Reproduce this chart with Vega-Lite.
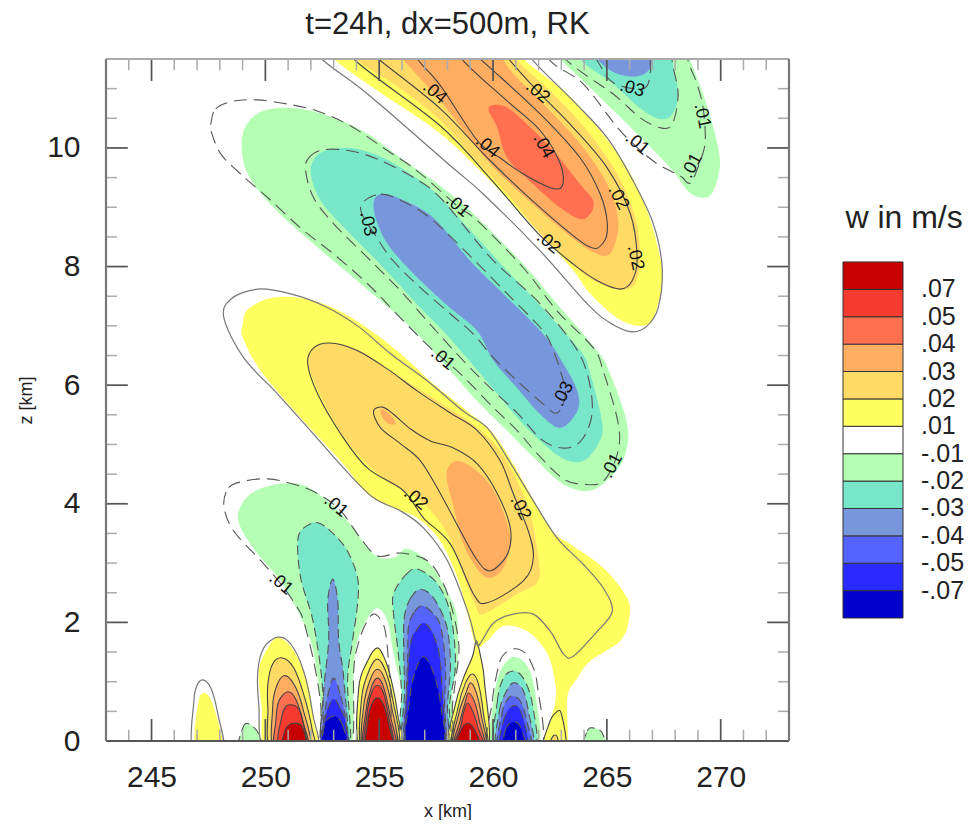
{"$schema":"https://vega.github.io/schema/vega-lite/v6.json","padding":{"left":17,"top":8,"right":0,"bottom":0},"background":"white","datasets":{
"fills":[
{"p":1,"l":1,"x":251.5,"z":12.1},{"p":1,"l":1,"x":253.0,"z":11.5},{"p":1,"l":1,"x":255.06,"z":10.93},{"p":1,"l":1,"x":257.69,"z":10.24},{"p":1,"l":1,"x":259.89,"z":9.44},{"p":1,"l":1,"x":262.08,"z":8.55},{"p":1,"l":1,"x":263.53,"z":7.93},{"p":1,"l":1,"x":264.27,"z":7.54},{"p":1,"l":1,"x":265.46,"z":7.13},{"p":1,"l":1,"x":266.46,"z":7.0},{"p":1,"l":1,"x":267.04,"z":7.13},{"p":1,"l":1,"x":267.43,"z":7.71},{"p":1,"l":1,"x":267.34,"z":8.15},{"p":1,"l":1,"x":266.77,"z":8.94},{"p":1,"l":1,"x":265.89,"z":9.66},{"p":1,"l":1,"x":264.71,"z":10.29},{"p":1,"l":1,"x":263.26,"z":10.91},{"p":1,"l":1,"x":261.33,"z":11.5},{"p":1,"l":1,"x":259.8,"z":12.1},
{"p":2,"l":2,"x":252.5,"z":12.1},{"p":2,"l":2,"x":253.96,"z":11.5},{"p":2,"l":2,"x":255.94,"z":11.0},{"p":2,"l":2,"x":257.69,"z":10.46},{"p":2,"l":2,"x":259.14,"z":9.83},{"p":2,"l":2,"x":260.63,"z":9.22},{"p":2,"l":2,"x":262.08,"z":8.55},{"p":2,"l":2,"x":263.53,"z":8.01},{"p":2,"l":2,"x":264.71,"z":7.71},{"p":2,"l":2,"x":265.68,"z":7.61},{"p":2,"l":2,"x":266.25,"z":7.72},{"p":2,"l":2,"x":266.46,"z":8.15},{"p":2,"l":2,"x":266.25,"z":8.82},{"p":2,"l":2,"x":265.46,"z":9.56},{"p":2,"l":2,"x":264.14,"z":10.29},{"p":2,"l":2,"x":262.65,"z":10.91},{"p":2,"l":2,"x":260.98,"z":11.5},{"p":2,"l":2,"x":259.5,"z":12.1},
{"p":3,"l":3,"x":254.8,"z":12.1},{"p":3,"l":3,"x":256.03,"z":11.5},{"p":3,"l":3,"x":257.69,"z":10.79},{"p":3,"l":3,"x":259.89,"z":9.73},{"p":3,"l":3,"x":262.08,"z":8.94},{"p":3,"l":3,"x":263.83,"z":8.38},{"p":3,"l":3,"x":264.84,"z":8.18},{"p":3,"l":3,"x":265.28,"z":8.31},{"p":3,"l":3,"x":265.5,"z":8.77},{"p":3,"l":3,"x":265.02,"z":9.39},{"p":3,"l":3,"x":263.83,"z":10.07},{"p":3,"l":3,"x":262.39,"z":10.67},{"p":3,"l":3,"x":260.89,"z":11.25},{"p":3,"l":3,"x":260.41,"z":11.5},{"p":3,"l":3,"x":259.3,"z":12.1},
{"p":4,"l":4,"x":259.8,"z":10.67},{"p":4,"l":4,"x":260.46,"z":10.71},{"p":4,"l":4,"x":261.33,"z":10.46},{"p":4,"l":4,"x":262.65,"z":9.95},{"p":4,"l":4,"x":263.83,"z":9.39},{"p":4,"l":4,"x":264.4,"z":9.11},{"p":4,"l":4,"x":264.27,"z":8.89},{"p":4,"l":4,"x":263.83,"z":8.8},{"p":4,"l":4,"x":262.96,"z":8.99},{"p":4,"l":4,"x":261.77,"z":9.39},{"p":4,"l":4,"x":260.63,"z":9.83},{"p":4,"l":4,"x":260.19,"z":10.34},
{"p":5,"l":-1,"x":261.8,"z":12.1},{"p":5,"l":-1,"x":262.96,"z":11.5},{"p":5,"l":-1,"x":263.96,"z":11.13},{"p":5,"l":-1,"x":265.46,"z":10.57},{"p":5,"l":-1,"x":266.77,"z":10.07},{"p":5,"l":-1,"x":267.91,"z":9.61},{"p":5,"l":-1,"x":268.57,"z":9.27},{"p":5,"l":-1,"x":269.23,"z":9.16},{"p":5,"l":-1,"x":269.67,"z":9.27},{"p":5,"l":-1,"x":269.97,"z":9.73},{"p":5,"l":-1,"x":269.75,"z":10.24},{"p":5,"l":-1,"x":269.23,"z":10.91},{"p":5,"l":-1,"x":268.66,"z":11.5},{"p":5,"l":-1,"x":268.3,"z":12.1},
{"p":6,"l":-2,"x":263,"z":12.1},{"p":6,"l":-2,"x":263.83,"z":11.5},{"p":6,"l":-2,"x":265.28,"z":11.08},{"p":6,"l":-2,"x":266.46,"z":10.67},{"p":6,"l":-2,"x":267.34,"z":10.49},{"p":6,"l":-2,"x":267.87,"z":10.57},{"p":6,"l":-2,"x":268.13,"z":10.91},{"p":6,"l":-2,"x":267.87,"z":11.5},{"p":6,"l":-2,"x":267.8,"z":12.1},
{"p":7,"l":-3,"x":263.5,"z":12.1},{"p":7,"l":-3,"x":264.58,"z":11.5},{"p":7,"l":-3,"x":265.46,"z":11.25},{"p":7,"l":-3,"x":266.33,"z":11.21},{"p":7,"l":-3,"x":266.82,"z":11.3},{"p":7,"l":-3,"x":266.99,"z":11.5},{"p":7,"l":-3,"x":267,"z":12.1},
{"p":8,"l":-1,"x":248.96,"z":10.12},{"p":8,"l":-1,"x":249.36,"z":10.49},{"p":8,"l":-1,"x":250.24,"z":10.66},{"p":8,"l":-1,"x":251.55,"z":10.66},{"p":8,"l":-1,"x":253.0,"z":10.51},{"p":8,"l":-1,"x":254.49,"z":10.24},{"p":8,"l":-1,"x":255.94,"z":9.83},{"p":8,"l":-1,"x":257.69,"z":9.36},{"p":8,"l":-1,"x":259.14,"z":8.89},{"p":8,"l":-1,"x":261.33,"z":8.04},{"p":8,"l":-1,"x":262.82,"z":7.37},{"p":8,"l":-1,"x":264.58,"z":6.58},{"p":8,"l":-1,"x":265.15,"z":6.19},{"p":8,"l":-1,"x":265.89,"z":5.35},{"p":8,"l":-1,"x":265.81,"z":4.84},{"p":8,"l":-1,"x":265.28,"z":4.5},{"p":8,"l":-1,"x":264.27,"z":4.22},{"p":8,"l":-1,"x":263.09,"z":4.33},{"p":8,"l":-1,"x":261.95,"z":4.72},{"p":8,"l":-1,"x":260.63,"z":5.23},{"p":8,"l":-1,"x":259.32,"z":5.73},{"p":8,"l":-1,"x":256.95,"z":6.75},{"p":8,"l":-1,"x":255.94,"z":7.13},{"p":8,"l":-1,"x":253.88,"z":7.81},{"p":8,"l":-1,"x":252.12,"z":8.38},{"p":8,"l":-1,"x":250.37,"z":8.99},{"p":8,"l":-1,"x":249.23,"z":9.56},
{"p":9,"l":-2,"x":251.99,"z":9.61},{"p":9,"l":-2,"x":252.43,"z":9.92},{"p":9,"l":-2,"x":253.75,"z":10.0},{"p":9,"l":-2,"x":255.19,"z":9.83},{"p":9,"l":-2,"x":256.68,"z":9.48},{"p":9,"l":-2,"x":257.69,"z":9.16},{"p":9,"l":-2,"x":259.14,"z":8.55},{"p":9,"l":-2,"x":260.63,"z":7.93},{"p":9,"l":-2,"x":262.08,"z":7.34},{"p":9,"l":-2,"x":263.83,"z":6.58},{"p":9,"l":-2,"x":264.27,"z":6.19},{"p":9,"l":-2,"x":264.8,"z":5.35},{"p":9,"l":-2,"x":264.62,"z":5.01},{"p":9,"l":-2,"x":263.96,"z":4.72},{"p":9,"l":-2,"x":263.09,"z":4.76},{"p":9,"l":-2,"x":262.08,"z":5.06},{"p":9,"l":-2,"x":261.07,"z":5.45},{"p":9,"l":-2,"x":259.89,"z":5.99},{"p":9,"l":-2,"x":258.13,"z":6.78},{"p":9,"l":-2,"x":256.82,"z":7.3},{"p":9,"l":-2,"x":255.19,"z":7.98},{"p":9,"l":-2,"x":253.61,"z":8.6},{"p":9,"l":-2,"x":252.43,"z":9.11},
{"p":10,"l":-3,"x":254.75,"z":9.06},{"p":10,"l":-3,"x":255.06,"z":9.22},{"p":10,"l":-3,"x":255.94,"z":9.14},{"p":10,"l":-3,"x":257.39,"z":8.82},{"p":10,"l":-3,"x":259.01,"z":8.09},{"p":10,"l":-3,"x":260.32,"z":7.59},{"p":10,"l":-3,"x":262.21,"z":6.86},{"p":10,"l":-3,"x":263.09,"z":6.36},{"p":10,"l":-3,"x":263.7,"z":5.9},{"p":10,"l":-3,"x":263.7,"z":5.56},{"p":10,"l":-3,"x":262.96,"z":5.28},{"p":10,"l":-3,"x":262.08,"z":5.51},{"p":10,"l":-3,"x":261.07,"z":5.95},{"p":10,"l":-3,"x":260.02,"z":6.41},{"p":10,"l":-3,"x":259.32,"z":6.91},{"p":10,"l":-3,"x":258.13,"z":7.3},{"p":10,"l":-3,"x":256.82,"z":7.76},{"p":10,"l":-3,"x":255.5,"z":8.31},{"p":10,"l":-3,"x":254.93,"z":8.72},
{"p":11,"l":1,"x":259.27,"z":1.6},{"p":11,"l":1,"x":259.75,"z":1.69},{"p":11,"l":1,"x":260.46,"z":1.94},{"p":11,"l":1,"x":261.51,"z":1.85},{"p":11,"l":1,"x":262.39,"z":1.47},{"p":11,"l":1,"x":262.74,"z":0.96},{"p":11,"l":1,"x":262.74,"z":0.67},{"p":11,"l":1,"x":262.52,"z":0.34},{"p":11,"l":1,"x":262.21,"z":-0.17},{"p":11,"l":1,"x":263.22,"z":-0.17},{"p":11,"l":1,"x":263.26,"z":0.73},{"p":11,"l":1,"x":263.7,"z":1.06},{"p":11,"l":1,"x":264.27,"z":1.35},{"p":11,"l":1,"x":265.59,"z":1.69},{"p":11,"l":1,"x":265.98,"z":2.07},{"p":11,"l":1,"x":265.89,"z":2.41},{"p":11,"l":1,"x":264.84,"z":2.92},{"p":11,"l":1,"x":263.39,"z":3.32},{"p":11,"l":1,"x":262.52,"z":3.59},{"p":11,"l":1,"x":261.07,"z":4.55},{"p":11,"l":1,"x":260.02,"z":5.18},{"p":11,"l":1,"x":258.88,"z":5.56},{"p":11,"l":1,"x":257.39,"z":6.02},{"p":11,"l":1,"x":255.94,"z":6.53},{"p":11,"l":1,"x":254.49,"z":6.96},{"p":11,"l":1,"x":253.0,"z":7.3},{"p":11,"l":1,"x":251.55,"z":7.47},{"p":11,"l":1,"x":250.24,"z":7.47},{"p":11,"l":1,"x":249.23,"z":7.28},{"p":11,"l":1,"x":249.01,"z":7.03},{"p":11,"l":1,"x":249.01,"z":6.8},{"p":11,"l":1,"x":249.8,"z":6.24},{"p":11,"l":1,"x":251.55,"z":5.45},{"p":11,"l":1,"x":253.31,"z":4.72},{"p":11,"l":1,"x":254.49,"z":4.17},{"p":11,"l":1,"x":255.63,"z":3.93},{"p":11,"l":1,"x":256.68,"z":3.76},{"p":11,"l":1,"x":257.69,"z":3.37},{"p":11,"l":1,"x":258.44,"z":2.75},{"p":11,"l":1,"x":258.88,"z":2.14},
{"p":12,"l":2,"x":251.9,"z":6.41},{"p":12,"l":2,"x":252.12,"z":6.63},{"p":12,"l":2,"x":253.0,"z":6.71},{"p":12,"l":2,"x":254.18,"z":6.58},{"p":12,"l":2,"x":255.37,"z":6.27},{"p":12,"l":2,"x":256.68,"z":5.95},{"p":12,"l":2,"x":258.13,"z":5.6},{"p":12,"l":2,"x":259.32,"z":5.28},{"p":12,"l":2,"x":260.32,"z":4.89},{"p":12,"l":2,"x":261.2,"z":4.27},{"p":12,"l":2,"x":261.64,"z":3.83},{"p":12,"l":2,"x":261.95,"z":3.2},{"p":12,"l":2,"x":261.99,"z":2.7},{"p":12,"l":2,"x":261.07,"z":2.48},{"p":12,"l":2,"x":259.58,"z":2.14},{"p":12,"l":2,"x":259.23,"z":2.28},{"p":12,"l":2,"x":258.88,"z":2.61},{"p":12,"l":2,"x":258.0,"z":3.49},{"p":12,"l":2,"x":256.82,"z":4.05},{"p":12,"l":2,"x":255.37,"z":4.38},{"p":12,"l":2,"x":254.05,"z":4.84},{"p":12,"l":2,"x":253.0,"z":5.4},{"p":12,"l":2,"x":251.99,"z":6.19},
{"p":13,"l":3,"x":257.96,"z":4.52},{"p":13,"l":3,"x":258.48,"z":4.72},{"p":13,"l":3,"x":259.45,"z":4.5},{"p":13,"l":3,"x":260.1,"z":4.17},{"p":13,"l":3,"x":260.63,"z":3.66},{"p":13,"l":3,"x":260.76,"z":3.32},{"p":13,"l":3,"x":260.46,"z":2.92},{"p":13,"l":3,"x":259.89,"z":2.75},{"p":13,"l":3,"x":259.36,"z":2.87},{"p":13,"l":3,"x":258.7,"z":3.32},{"p":13,"l":3,"x":258.26,"z":3.96},
{"p":14,"l":3,"x":255.06,"z":5.6},{"p":14,"l":3,"x":255.41,"z":5.53},{"p":14,"l":3,"x":255.72,"z":5.36},{"p":14,"l":3,"x":255.41,"z":5.35},{"p":14,"l":3,"x":255.15,"z":5.45},
{"p":15,"l":-1,"x":248.83,"z":3.88},{"p":15,"l":-1,"x":249.36,"z":4.17},{"p":15,"l":-1,"x":250.37,"z":4.32},{"p":15,"l":-1,"x":251.55,"z":4.33},{"p":15,"l":-1,"x":252.56,"z":4.1},{"p":15,"l":-1,"x":253.61,"z":3.71},{"p":15,"l":-1,"x":254.75,"z":3.15},{"p":15,"l":-1,"x":255.63,"z":3.09},{"p":15,"l":-1,"x":256.25,"z":3.24},{"p":15,"l":-1,"x":257.25,"z":2.98},{"p":15,"l":-1,"x":258.13,"z":2.41},{"p":15,"l":-1,"x":258.44,"z":2.02},{"p":15,"l":-1,"x":258.44,"z":1.3},{"p":15,"l":-1,"x":258.22,"z":0.84},{"p":15,"l":-1,"x":258.04,"z":-0.17},{"p":15,"l":-1,"x":255.94,"z":-0.17},{"p":15,"l":-1,"x":256.07,"z":0.62},{"p":15,"l":-1,"x":255.63,"z":1.47},{"p":15,"l":-1,"x":255.37,"z":2.02},{"p":15,"l":-1,"x":254.93,"z":2.24},{"p":15,"l":-1,"x":254.49,"z":2.07},{"p":15,"l":-1,"x":254.05,"z":1.69},{"p":15,"l":-1,"x":253.88,"z":1.18},{"p":15,"l":-1,"x":253.75,"z":-0.17},{"p":15,"l":-1,"x":252.56,"z":-0.17},{"p":15,"l":-1,"x":252.43,"z":0.62},{"p":15,"l":-1,"x":252.25,"z":1.18},{"p":15,"l":-1,"x":251.99,"z":1.69},{"p":15,"l":-1,"x":251.42,"z":2.19},{"p":15,"l":-1,"x":250.68,"z":2.7},{"p":15,"l":-1,"x":249.67,"z":3.15},{"p":15,"l":-1,"x":248.92,"z":3.59},
{"p":16,"l":-1,"x":259.97,"z":-0.17},{"p":16,"l":-1,"x":260.02,"z":0.67},{"p":16,"l":-1,"x":260.32,"z":1.18},{"p":16,"l":-1,"x":260.89,"z":1.42},{"p":16,"l":-1,"x":261.51,"z":1.26},{"p":16,"l":-1,"x":261.86,"z":0.79},{"p":16,"l":-1,"x":261.95,"z":-0.17},
{"p":200,"l":-2,"x":251.42,"z":3.37},{"p":200,"l":-2,"x":251.68,"z":3.59},{"p":200,"l":-2,"x":252.3,"z":3.68},{"p":200,"l":-2,"x":253.0,"z":3.49},{"p":200,"l":-2,"x":253.61,"z":3.2},{"p":200,"l":-2,"x":254.05,"z":2.75},{"p":200,"l":-2,"x":254.05,"z":2.31},{"p":200,"l":-2,"x":253.83,"z":1.69},{"p":200,"l":-2,"x":253.61,"z":1.01},{"p":200,"l":-2,"x":253.7,"z":-0.17},{"p":200,"l":-2,"x":252.65,"z":-0.17},{"p":200,"l":-2,"x":252.52,"z":0.84},{"p":200,"l":-2,"x":252.34,"z":1.47},{"p":200,"l":-2,"x":252.04,"z":2.11},{"p":200,"l":-2,"x":251.55,"z":2.75},
{"p":201,"l":-3,"x":252.96,"z":2.73},{"p":201,"l":-3,"x":253.18,"z":2.36},{"p":201,"l":-3,"x":253.22,"z":1.69},{"p":201,"l":-3,"x":253.44,"z":1.06},{"p":201,"l":-3,"x":253.57,"z":-0.17},{"p":201,"l":-3,"x":252.47,"z":-0.17},{"p":201,"l":-3,"x":252.56,"z":0.84},{"p":201,"l":-3,"x":252.78,"z":1.69},{"p":201,"l":-3,"x":252.74,"z":2.36},
{"p":202,"l":-4,"x":253.0,"z":1.06},{"p":202,"l":-4,"x":253.31,"z":0.76},{"p":202,"l":-4,"x":253.53,"z":0.34},{"p":202,"l":-4,"x":253.61,"z":-0.17},{"p":202,"l":-4,"x":252.43,"z":-0.17},{"p":202,"l":-4,"x":252.56,"z":0.34},{"p":202,"l":-4,"x":252.74,"z":0.76},
{"p":203,"l":-5,"x":253.0,"z":0.71},{"p":203,"l":-5,"x":253.31,"z":0.54},{"p":203,"l":-5,"x":253.53,"z":0.3},{"p":203,"l":-5,"x":253.57,"z":-0.17},{"p":203,"l":-5,"x":252.52,"z":-0.17},{"p":203,"l":-5,"x":252.6,"z":0.3},{"p":203,"l":-5,"x":252.74,"z":0.54},
{"p":204,"l":-6,"x":253.0,"z":0.42},{"p":204,"l":-6,"x":253.39,"z":0.27},{"p":204,"l":-6,"x":253.57,"z":-0.17},{"p":204,"l":-6,"x":252.52,"z":-0.17},{"p":204,"l":-6,"x":252.6,"z":0.27},
{"p":205,"l":-2,"x":255.63,"z":2.48},{"p":205,"l":-2,"x":256.16,"z":2.8},{"p":205,"l":-2,"x":256.68,"z":2.9},{"p":205,"l":-2,"x":257.56,"z":2.65},{"p":205,"l":-2,"x":258.13,"z":2.14},{"p":205,"l":-2,"x":258.35,"z":1.3},{"p":205,"l":-2,"x":258.09,"z":0.62},{"p":205,"l":-2,"x":258.0,"z":-0.17},{"p":205,"l":-2,"x":256.03,"z":-0.17},{"p":205,"l":-2,"x":255.98,"z":0.84},{"p":205,"l":-2,"x":255.81,"z":1.57},{"p":205,"l":-2,"x":255.63,"z":2.14},
{"p":206,"l":-3,"x":256.11,"z":2.11},{"p":206,"l":-3,"x":256.38,"z":2.41},{"p":206,"l":-3,"x":256.82,"z":2.56},{"p":206,"l":-3,"x":257.39,"z":2.41},{"p":206,"l":-3,"x":257.96,"z":1.94},{"p":206,"l":-3,"x":258.13,"z":1.3},{"p":206,"l":-3,"x":258.0,"z":0.62},{"p":206,"l":-3,"x":257.91,"z":-0.17},{"p":206,"l":-3,"x":256.11,"z":-0.17},{"p":206,"l":-3,"x":256.11,"z":0.84},{"p":206,"l":-3,"x":256.07,"z":1.69},
{"p":207,"l":-4,"x":256.29,"z":1.94},{"p":207,"l":-4,"x":256.55,"z":2.18},{"p":207,"l":-4,"x":256.9,"z":2.28},{"p":207,"l":-4,"x":257.34,"z":2.16},{"p":207,"l":-4,"x":257.69,"z":1.94},{"p":207,"l":-4,"x":257.91,"z":1.3},{"p":207,"l":-4,"x":257.87,"z":0.62},{"p":207,"l":-4,"x":257.82,"z":-0.17},{"p":207,"l":-4,"x":256.2,"z":-0.17},{"p":207,"l":-4,"x":256.2,"z":0.84},{"p":207,"l":-4,"x":256.25,"z":1.43},
{"p":208,"l":-5,"x":256.38,"z":1.65},{"p":208,"l":-5,"x":256.6,"z":1.85},{"p":208,"l":-5,"x":256.95,"z":1.99},{"p":208,"l":-5,"x":257.3,"z":1.85},{"p":208,"l":-5,"x":257.61,"z":1.52},{"p":208,"l":-5,"x":257.74,"z":1.01},{"p":208,"l":-5,"x":257.78,"z":-0.17},{"p":208,"l":-5,"x":256.25,"z":-0.17},{"p":208,"l":-5,"x":256.25,"z":1.01},
{"p":209,"l":-6,"x":256.95,"z":1.42},{"p":209,"l":-6,"x":256.55,"z":1.13},{"p":209,"l":-6,"x":256.33,"z":0.67},{"p":209,"l":-6,"x":256.2,"z":-0.17},{"p":209,"l":-6,"x":257.82,"z":-0.17},{"p":209,"l":-6,"x":257.74,"z":0.51},{"p":209,"l":-6,"x":257.43,"z":1.1},
{"p":210,"l":-2,"x":260.11,"z":-0.17},{"p":210,"l":-2,"x":260.19,"z":0.67},{"p":210,"l":-2,"x":260.46,"z":1.06},{"p":210,"l":-2,"x":260.89,"z":1.18},{"p":210,"l":-2,"x":261.33,"z":1.06},{"p":210,"l":-2,"x":261.73,"z":0.62},{"p":210,"l":-2,"x":261.82,"z":-0.17},
{"p":211,"l":-3,"x":260.19,"z":-0.17},{"p":211,"l":-3,"x":260.28,"z":0.51},{"p":211,"l":-3,"x":260.59,"z":0.84},{"p":211,"l":-3,"x":260.89,"z":0.98},{"p":211,"l":-3,"x":261.29,"z":0.88},{"p":211,"l":-3,"x":261.55,"z":0.51},{"p":211,"l":-3,"x":261.73,"z":-0.17},
{"p":212,"l":-4,"x":260.24,"z":-0.17},{"p":212,"l":-4,"x":260.37,"z":0.42},{"p":212,"l":-4,"x":260.59,"z":0.67},{"p":212,"l":-4,"x":260.85,"z":0.76},{"p":212,"l":-4,"x":261.2,"z":0.67},{"p":212,"l":-4,"x":261.46,"z":0.37},{"p":212,"l":-4,"x":261.64,"z":-0.17},
{"p":213,"l":-5,"x":260.32,"z":-0.17},{"p":213,"l":-5,"x":260.46,"z":0.34},{"p":213,"l":-5,"x":260.85,"z":0.59},{"p":213,"l":-5,"x":261.25,"z":0.47},{"p":213,"l":-5,"x":261.51,"z":-0.17},
{"p":214,"l":-6,"x":260.46,"z":-0.17},{"p":214,"l":-6,"x":260.54,"z":0.17},{"p":214,"l":-6,"x":260.76,"z":0.3},{"p":214,"l":-6,"x":261.16,"z":0.27},{"p":214,"l":-6,"x":261.42,"z":-0.17},
{"p":215,"l":-1,"x":248.83,"z":-0.17},{"p":215,"l":-1,"x":249.01,"z":0.22},{"p":215,"l":-1,"x":249.27,"z":0.29},{"p":215,"l":-1,"x":249.71,"z":0.12},{"p":215,"l":-1,"x":249.8,"z":-0.17},
{"p":216,"l":-1,"x":263.96,"z":-0.17},{"p":216,"l":-1,"x":264.14,"z":0.17},{"p":216,"l":-1,"x":264.4,"z":0.22},{"p":216,"l":-1,"x":264.79,"z":0.14},{"p":216,"l":-1,"x":264.93,"z":-0.17},
{"p":17,"l":1,"x":246.95,"z":-0.17},{"p":17,"l":1,"x":247.04,"z":0.62},{"p":17,"l":1,"x":247.3,"z":0.81},{"p":17,"l":1,"x":247.69,"z":0.62},{"p":17,"l":1,"x":248.13,"z":-0.17},
{"p":18,"l":1,"x":249.71,"z":1.18},{"p":18,"l":1,"x":250.11,"z":1.57},{"p":18,"l":1,"x":250.59,"z":1.74},{"p":18,"l":1,"x":251.25,"z":1.52},{"p":18,"l":1,"x":251.86,"z":0.96},{"p":18,"l":1,"x":252.12,"z":0.34},{"p":18,"l":1,"x":252.21,"z":-0.17},{"p":18,"l":1,"x":250.06,"z":-0.17},{"p":18,"l":1,"x":249.84,"z":0.56},
{"p":100,"l":2,"x":250.11,"z":0.96},{"p":100,"l":2,"x":250.32,"z":1.3},{"p":100,"l":2,"x":250.76,"z":1.4},{"p":100,"l":2,"x":251.25,"z":1.23},{"p":100,"l":2,"x":251.68,"z":0.79},{"p":100,"l":2,"x":252.04,"z":0.22},{"p":100,"l":2,"x":252.08,"z":-0.17},{"p":100,"l":2,"x":250.28,"z":-0.17},{"p":100,"l":2,"x":250.11,"z":0.56},
{"p":101,"l":3,"x":250.46,"z":0.89},{"p":101,"l":3,"x":250.81,"z":1.1},{"p":101,"l":3,"x":251.25,"z":0.96},{"p":101,"l":3,"x":251.64,"z":0.56},{"p":101,"l":3,"x":251.95,"z":-0.17},{"p":101,"l":3,"x":250.41,"z":-0.17},{"p":101,"l":3,"x":250.32,"z":0.56},
{"p":102,"l":4,"x":250.59,"z":0.67},{"p":102,"l":4,"x":250.98,"z":0.83},{"p":102,"l":4,"x":251.33,"z":0.71},{"p":102,"l":4,"x":251.64,"z":0.34},{"p":102,"l":4,"x":251.86,"z":-0.17},{"p":102,"l":4,"x":250.46,"z":-0.17},{"p":102,"l":4,"x":250.46,"z":0.34},
{"p":103,"l":5,"x":250.76,"z":0.47},{"p":103,"l":5,"x":251.11,"z":0.61},{"p":103,"l":5,"x":251.55,"z":0.47},{"p":103,"l":5,"x":251.77,"z":-0.17},{"p":103,"l":5,"x":250.59,"z":-0.17},
{"p":104,"l":6,"x":250.89,"z":0.2},{"p":104,"l":6,"x":251.25,"z":0.3},{"p":104,"l":6,"x":251.64,"z":0.22},{"p":104,"l":6,"x":251.77,"z":-0.17},{"p":104,"l":6,"x":250.76,"z":-0.17},
{"p":105,"l":1,"x":254.18,"z":-0.17},{"p":105,"l":1,"x":254.1,"z":0.89},{"p":105,"l":1,"x":254.49,"z":1.35},{"p":105,"l":1,"x":254.93,"z":1.57},{"p":105,"l":1,"x":255.28,"z":1.35},{"p":105,"l":1,"x":255.54,"z":1.01},{"p":105,"l":1,"x":255.81,"z":0.46},{"p":105,"l":1,"x":255.94,"z":-0.17},
{"p":106,"l":2,"x":254.27,"z":-0.17},{"p":106,"l":2,"x":254.23,"z":0.73},{"p":106,"l":2,"x":254.58,"z":1.21},{"p":106,"l":2,"x":254.93,"z":1.38},{"p":106,"l":2,"x":255.28,"z":1.18},{"p":106,"l":2,"x":255.58,"z":0.73},{"p":106,"l":2,"x":255.85,"z":-0.17},
{"p":107,"l":3,"x":254.32,"z":-0.17},{"p":107,"l":3,"x":254.32,"z":0.59},{"p":107,"l":3,"x":254.62,"z":1.05},{"p":107,"l":3,"x":254.93,"z":1.21},{"p":107,"l":3,"x":255.24,"z":1.05},{"p":107,"l":3,"x":255.54,"z":0.59},{"p":107,"l":3,"x":255.76,"z":-0.17},
{"p":108,"l":4,"x":254.36,"z":-0.17},{"p":108,"l":4,"x":254.4,"z":0.47},{"p":108,"l":4,"x":254.66,"z":0.91},{"p":108,"l":4,"x":254.93,"z":1.06},{"p":108,"l":4,"x":255.19,"z":0.91},{"p":108,"l":4,"x":255.46,"z":0.47},{"p":108,"l":4,"x":255.72,"z":-0.17},
{"p":109,"l":5,"x":254.4,"z":-0.17},{"p":109,"l":5,"x":254.45,"z":0.42},{"p":109,"l":5,"x":254.66,"z":0.81},{"p":109,"l":5,"x":254.93,"z":0.94},{"p":109,"l":5,"x":255.19,"z":0.81},{"p":109,"l":5,"x":255.41,"z":0.42},{"p":109,"l":5,"x":255.63,"z":-0.17},
{"p":110,"l":6,"x":254.45,"z":-0.17},{"p":110,"l":6,"x":254.49,"z":0.3},{"p":110,"l":6,"x":254.66,"z":0.61},{"p":110,"l":6,"x":254.93,"z":0.73},{"p":110,"l":6,"x":255.19,"z":0.61},{"p":110,"l":6,"x":255.41,"z":0.3},{"p":110,"l":6,"x":255.59,"z":-0.17},
{"p":111,"l":1,"x":258.04,"z":-0.17},{"p":111,"l":1,"x":258.35,"z":0.62},{"p":111,"l":1,"x":258.7,"z":1.06},{"p":111,"l":1,"x":259.1,"z":1.43},{"p":111,"l":1,"x":259.27,"z":1.69},{"p":111,"l":1,"x":259.45,"z":1.43},{"p":111,"l":1,"x":259.62,"z":1.01},{"p":111,"l":1,"x":259.75,"z":-0.17},
{"p":112,"l":2,"x":258.2,"z":-0.17},{"p":112,"l":2,"x":258.48,"z":0.59},{"p":112,"l":2,"x":258.79,"z":0.98},{"p":112,"l":2,"x":259.1,"z":1.13},{"p":112,"l":2,"x":259.36,"z":0.96},{"p":112,"l":2,"x":259.58,"z":0.46},{"p":112,"l":2,"x":259.7,"z":-0.17},
{"p":113,"l":3,"x":258.25,"z":-0.17},{"p":113,"l":3,"x":258.5,"z":0.47},{"p":113,"l":3,"x":258.79,"z":0.79},{"p":113,"l":3,"x":259.01,"z":0.98},{"p":113,"l":3,"x":259.27,"z":0.81},{"p":113,"l":3,"x":259.49,"z":0.42},{"p":113,"l":3,"x":259.66,"z":-0.17},
{"p":114,"l":4,"x":258.28,"z":-0.17},{"p":114,"l":4,"x":258.55,"z":0.34},{"p":114,"l":4,"x":258.79,"z":0.67},{"p":114,"l":4,"x":258.92,"z":0.81},{"p":114,"l":4,"x":259.18,"z":0.67},{"p":114,"l":4,"x":259.4,"z":0.34},{"p":114,"l":4,"x":259.62,"z":-0.17},
{"p":115,"l":5,"x":258.3,"z":-0.17},{"p":115,"l":5,"x":258.58,"z":0.25},{"p":115,"l":5,"x":258.7,"z":0.47},{"p":115,"l":5,"x":258.88,"z":0.64},{"p":115,"l":5,"x":259.1,"z":0.51},{"p":115,"l":5,"x":259.32,"z":0.25},{"p":115,"l":5,"x":259.58,"z":-0.17},
{"p":116,"l":6,"x":258.38,"z":-0.17},{"p":116,"l":6,"x":258.55,"z":0.15},{"p":116,"l":6,"x":258.88,"z":0.3},{"p":116,"l":6,"x":259.2,"z":0.18},{"p":116,"l":6,"x":259.45,"z":-0.17},
{"p":117,"l":1,"x":262.17,"z":-0.17},{"p":117,"l":1,"x":262.47,"z":0.3},{"p":117,"l":1,"x":262.74,"z":0.47},{"p":117,"l":1,"x":263,"z":0.46},{"p":117,"l":1,"x":263.18,"z":-0.17},
{"p":118,"l":2,"x":262.43,"z":-0.17},{"p":118,"l":2,"x":262.61,"z":0.07},{"p":118,"l":2,"x":262.82,"z":0.07},{"p":118,"l":2,"x":262.86,"z":-0.17}
],
"lines":[
{"p":1,"s":1,"x":250.9,"z":12.1},{"p":1,"s":1,"x":252.56,"z":11.47},{"p":1,"s":1,"x":254.49,"z":10.91},{"p":1,"s":1,"x":258.13,"z":9.7},{"p":1,"s":1,"x":259.58,"z":9.22},{"p":1,"s":1,"x":262.08,"z":8.26},{"p":1,"s":1,"x":264.14,"z":7.37},{"p":1,"s":1,"x":265.15,"z":7.05},{"p":1,"s":1,"x":266.11,"z":6.9},{"p":1,"s":1,"x":266.77,"z":7.0},{"p":1,"s":1,"x":267.25,"z":7.3},{"p":1,"s":1,"x":267.43,"z":7.98},{"p":1,"s":1,"x":267.04,"z":8.72},{"p":1,"s":1,"x":266.16,"z":9.44},{"p":1,"s":1,"x":265.02,"z":10.17},{"p":1,"s":1,"x":263.53,"z":10.79},{"p":1,"s":1,"x":261.77,"z":11.47},{"p":1,"s":1,"x":260.5,"z":12.1},
{"p":2,"s":2,"x":252.7,"z":12.1},{"p":2,"s":2,"x":253.96,"z":11.47},{"p":2,"s":2,"x":257.69,"z":10.37},{"p":2,"s":2,"x":259.89,"z":9.48},{"p":2,"s":2,"x":261.95,"z":8.57},{"p":2,"s":2,"x":263.53,"z":8.04},{"p":2,"s":2,"x":264.58,"z":7.76},{"p":2,"s":2,"x":265.59,"z":7.62},{"p":2,"s":2,"x":266.11,"z":7.76},{"p":2,"s":2,"x":266.33,"z":8.15},{"p":2,"s":2,"x":266.03,"z":8.89},{"p":2,"s":2,"x":265.02,"z":9.66},{"p":2,"s":2,"x":263.53,"z":10.34},{"p":2,"s":2,"x":262.08,"z":10.91},{"p":2,"s":2,"x":260.76,"z":11.47},{"p":2,"s":2,"x":259.5,"z":12.1},
{"p":3,"s":2,"x":254.18,"z":11.8},{"p":3,"s":2,"x":254.97,"z":11.5},{"p":3,"s":2,"x":257.69,"z":10.66},{"p":3,"s":2,"x":259.89,"z":9.78},{"p":3,"s":2,"x":262.08,"z":8.99},{"p":3,"s":2,"x":264.14,"z":8.35},{"p":3,"s":2,"x":264.84,"z":8.4},{"p":3,"s":2,"x":265.02,"z":8.72},{"p":3,"s":2,"x":264.71,"z":9.22},{"p":3,"s":2,"x":263.83,"z":9.83},{"p":3,"s":2,"x":262.08,"z":10.57},{"p":3,"s":2,"x":260.02,"z":11.3},{"p":3,"s":2,"x":259.0,"z":11.64},
{"p":4,"s":2,"x":256.2,"z":11.9},{"p":4,"s":2,"x":256.68,"z":11.5},{"p":4,"s":2,"x":257.69,"z":11.05},{"p":4,"s":2,"x":259.32,"z":10.12},{"p":4,"s":2,"x":260.32,"z":9.83},{"p":4,"s":2,"x":261.33,"z":9.56},{"p":4,"s":2,"x":262.52,"z":9.33},{"p":4,"s":2,"x":263.04,"z":9.36},{"p":4,"s":2,"x":262.96,"z":9.73},{"p":4,"s":2,"x":262.08,"z":10.29},{"p":4,"s":2,"x":260.63,"z":10.79},{"p":4,"s":2,"x":258.7,"z":11.47},{"p":4,"s":2,"x":257.5,"z":12.1},
{"p":5,"s":3,"x":261.5,"z":12.1},{"p":5,"s":3,"x":262.52,"z":11.47},{"p":5,"s":3,"x":263.96,"z":11.08},{"p":5,"s":3,"x":265.59,"z":10.29},{"p":5,"s":3,"x":267.04,"z":9.78},{"p":5,"s":3,"x":268.22,"z":9.53},{"p":5,"s":3,"x":268.66,"z":9.41},{"p":5,"s":3,"x":269.1,"z":9.78},{"p":5,"s":3,"x":269.32,"z":10.12},{"p":5,"s":3,"x":269.23,"z":10.67},{"p":5,"s":3,"x":268.96,"z":11.08},{"p":5,"s":3,"x":268.57,"z":11.47},{"p":5,"s":3,"x":268.2,"z":12.1},
{"p":6,"s":3,"x":262,"z":12.1},{"p":6,"s":3,"x":263.26,"z":11.47},{"p":6,"s":3,"x":265.28,"z":10.91},{"p":6,"s":3,"x":266.46,"z":10.51},{"p":6,"s":3,"x":267.34,"z":10.34},{"p":6,"s":3,"x":267.87,"z":10.4},{"p":6,"s":3,"x":268.13,"z":10.91},{"p":6,"s":3,"x":267.87,"z":11.47},{"p":6,"s":3,"x":267.8,"z":12.1},
{"p":7,"s":3,"x":263.6,"z":12.1},{"p":7,"s":3,"x":264.58,"z":11.47},{"p":7,"s":3,"x":265.28,"z":11.1},{"p":7,"s":3,"x":266.6,"z":11.0},{"p":7,"s":3,"x":266.9,"z":11.25},{"p":7,"s":3,"x":266.9,"z":11.5},{"p":7,"s":3,"x":266.9,"z":12.1},
{"p":30,"s":4,"x":247.61,"z":10.42},{"p":30,"s":4,"x":247.82,"z":10.66},{"p":30,"s":4,"x":248.61,"z":10.79},{"p":30,"s":4,"x":249.67,"z":10.81},{"p":30,"s":4,"x":250.98,"z":10.74},{"p":30,"s":4,"x":252.3,"z":10.62},{"p":30,"s":4,"x":253.75,"z":10.37},{"p":30,"s":4,"x":255.19,"z":10.0},{"p":30,"s":4,"x":256.68,"z":9.61},{"p":30,"s":4,"x":258.44,"z":9.02},{"p":30,"s":4,"x":259.32,"z":8.77},{"p":30,"s":4,"x":261.33,"z":7.98},{"p":30,"s":4,"x":262.82,"z":7.25},{"p":30,"s":4,"x":264.4,"z":6.63},{"p":30,"s":4,"x":264.84,"z":6.24},{"p":30,"s":4,"x":265.5,"z":5.35},{"p":30,"s":4,"x":265.46,"z":4.84},{"p":30,"s":4,"x":264.84,"z":4.38},{"p":30,"s":4,"x":263.96,"z":4.33},{"p":30,"s":4,"x":263.09,"z":4.42},{"p":30,"s":4,"x":261.95,"z":4.84},{"p":30,"s":4,"x":261.07,"z":5.23},{"p":30,"s":4,"x":260.02,"z":5.62},{"p":30,"s":4,"x":258.57,"z":6.19},{"p":30,"s":4,"x":257.25,"z":6.63},{"p":30,"s":4,"x":255.94,"z":7.13},{"p":30,"s":4,"x":254.49,"z":7.71},{"p":30,"s":4,"x":253.0,"z":8.21},{"p":30,"s":4,"x":251.55,"z":8.65},{"p":30,"s":4,"x":250.11,"z":9.16},{"p":30,"s":4,"x":248.92,"z":9.56},{"p":30,"s":4,"x":248.04,"z":9.9},{"p":30,"s":4,"x":247.61,"z":10.29},
{"p":31,"s":4,"x":251.77,"z":9.61},{"p":31,"s":4,"x":251.9,"z":9.83},{"p":31,"s":4,"x":252.56,"z":9.97},{"p":31,"s":4,"x":253.75,"z":9.95},{"p":31,"s":4,"x":254.93,"z":9.81},{"p":31,"s":4,"x":256.38,"z":9.53},{"p":31,"s":4,"x":257.69,"z":9.16},{"p":31,"s":4,"x":259.89,"z":8.15},{"p":31,"s":4,"x":261.95,"z":7.42},{"p":31,"s":4,"x":263.53,"z":6.69},{"p":31,"s":4,"x":264.14,"z":6.19},{"p":31,"s":4,"x":264.36,"z":5.56},{"p":31,"s":4,"x":263.96,"z":5.11},{"p":31,"s":4,"x":263.26,"z":4.94},{"p":31,"s":4,"x":262.21,"z":5.06},{"p":31,"s":4,"x":261.07,"z":5.53},{"p":31,"s":4,"x":259.89,"z":5.95},{"p":31,"s":4,"x":258.7,"z":6.41},{"p":31,"s":4,"x":257.39,"z":6.96},{"p":31,"s":4,"x":255.94,"z":7.59},{"p":31,"s":4,"x":254.49,"z":8.15},{"p":31,"s":4,"x":253.0,"z":8.72},{"p":31,"s":4,"x":252.12,"z":9.16},
{"p":32,"s":4,"x":254.18,"z":8.99},{"p":32,"s":4,"x":255.06,"z":9.22},{"p":32,"s":4,"x":256.25,"z":9.06},{"p":32,"s":4,"x":257.39,"z":8.77},{"p":32,"s":4,"x":259.01,"z":8.17},{"p":32,"s":4,"x":260.63,"z":7.54},{"p":32,"s":4,"x":262.21,"z":6.91},{"p":32,"s":4,"x":262.65,"z":6.58},{"p":32,"s":4,"x":262.96,"z":6.24},{"p":32,"s":4,"x":263.18,"z":5.85},{"p":32,"s":4,"x":262.82,"z":5.53},{"p":32,"s":4,"x":262.21,"z":5.68},{"p":32,"s":4,"x":261.07,"z":6.07},{"p":32,"s":4,"x":260.02,"z":6.46},{"p":32,"s":4,"x":259.14,"z":6.86},{"p":32,"s":4,"x":258.13,"z":7.2},{"p":32,"s":4,"x":256.82,"z":7.64},{"p":32,"s":4,"x":255.63,"z":8.09},{"p":32,"s":4,"x":254.93,"z":8.47},
{"p":33,"s":5,"x":248.18,"z":7.13},{"p":33,"s":5,"x":248.48,"z":7.45},{"p":33,"s":5,"x":249.67,"z":7.62},{"p":33,"s":5,"x":251.11,"z":7.54},{"p":33,"s":5,"x":252.56,"z":7.34},{"p":33,"s":5,"x":254.05,"z":7.0},{"p":33,"s":5,"x":255.5,"z":6.53},{"p":33,"s":5,"x":257.12,"z":6.07},{"p":33,"s":5,"x":258.7,"z":5.56},{"p":33,"s":5,"x":259.75,"z":5.28},{"p":33,"s":5,"x":260.63,"z":4.77},{"p":33,"s":5,"x":261.77,"z":4.05},{"p":33,"s":5,"x":262.82,"z":3.42},{"p":33,"s":5,"x":263.96,"z":2.98},{"p":33,"s":5,"x":264.84,"z":2.58},{"p":33,"s":5,"x":265.24,"z":2.19},{"p":33,"s":5,"x":264.58,"z":1.85},{"p":33,"s":5,"x":263.53,"z":1.43},{"p":33,"s":5,"x":263.09,"z":1.47},{"p":33,"s":5,"x":262.52,"z":1.85},{"p":33,"s":5,"x":261.77,"z":2.14},{"p":33,"s":5,"x":260.89,"z":2.14},{"p":33,"s":5,"x":260.02,"z":1.99},{"p":33,"s":5,"x":259.45,"z":1.65},{"p":33,"s":5,"x":259.27,"z":1.65},{"p":33,"s":5,"x":258.88,"z":2.19},{"p":33,"s":5,"x":258.0,"z":3.04},{"p":33,"s":5,"x":256.95,"z":3.59},{"p":33,"s":5,"x":255.94,"z":3.88},{"p":33,"s":5,"x":254.75,"z":4.1},{"p":33,"s":5,"x":253.44,"z":4.6},{"p":33,"s":5,"x":251.99,"z":5.23},{"p":33,"s":5,"x":250.54,"z":5.85},{"p":33,"s":5,"x":249.05,"z":6.46},
{"p":34,"s":6,"x":251.86,"z":6.36},{"p":34,"s":6,"x":252.12,"z":6.63},{"p":34,"s":6,"x":252.87,"z":6.71},{"p":34,"s":6,"x":254.05,"z":6.58},{"p":34,"s":6,"x":255.37,"z":6.27},{"p":34,"s":6,"x":256.68,"z":5.9},{"p":34,"s":6,"x":258.13,"z":5.53},{"p":34,"s":6,"x":259.32,"z":5.23},{"p":34,"s":6,"x":260.32,"z":4.72},{"p":34,"s":6,"x":260.89,"z":4.17},{"p":34,"s":6,"x":261.55,"z":3.54},{"p":34,"s":6,"x":261.77,"z":3.09},{"p":34,"s":6,"x":261.33,"z":2.7},{"p":34,"s":6,"x":259.75,"z":2.33},{"p":34,"s":6,"x":259.14,"z":2.48},{"p":34,"s":6,"x":258.13,"z":3.32},{"p":34,"s":6,"x":256.95,"z":3.76},{"p":34,"s":6,"x":256.07,"z":4.22},{"p":34,"s":6,"x":254.49,"z":4.6},{"p":34,"s":6,"x":253.31,"z":5.18},{"p":34,"s":6,"x":252.3,"z":5.85},
{"p":35,"s":6,"x":254.75,"z":5.56},{"p":35,"s":6,"x":255.15,"z":5.63},{"p":35,"s":6,"x":255.63,"z":5.51},{"p":35,"s":6,"x":256.38,"z":5.26},{"p":35,"s":6,"x":257.25,"z":5.06},{"p":35,"s":6,"x":258.26,"z":4.94},{"p":35,"s":6,"x":259.32,"z":4.67},{"p":35,"s":6,"x":260.19,"z":4.17},{"p":35,"s":6,"x":260.76,"z":3.59},{"p":35,"s":6,"x":260.63,"z":3.15},{"p":35,"s":6,"x":259.89,"z":2.87},{"p":35,"s":6,"x":259.32,"z":3.04},{"p":35,"s":6,"x":258.57,"z":3.54},{"p":35,"s":6,"x":257.69,"z":4.17},{"p":35,"s":6,"x":256.82,"z":4.72},{"p":35,"s":6,"x":255.94,"z":5.01},{"p":35,"s":6,"x":255.06,"z":5.28},
{"p":36,"s":4,"x":248.18,"z":3.96},{"p":36,"s":4,"x":248.39,"z":4.27},{"p":36,"s":4,"x":249.05,"z":4.38},{"p":36,"s":4,"x":250.11,"z":4.42},{"p":36,"s":4,"x":251.25,"z":4.33},{"p":36,"s":4,"x":252.3,"z":4.17},{"p":36,"s":4,"x":253.31,"z":3.88},{"p":36,"s":4,"x":254.18,"z":3.42},{"p":36,"s":4,"x":254.93,"z":3.12},{"p":36,"s":4,"x":255.94,"z":3.17},{"p":36,"s":4,"x":257.12,"z":3.04},{"p":36,"s":4,"x":257.82,"z":2.65},{"p":36,"s":4,"x":258.26,"z":2.14},{"p":36,"s":4,"x":258.48,"z":1.69},{"p":36,"s":4,"x":258.48,"z":1.4},{"p":36,"s":4,"x":258.22,"z":0.62},{"p":36,"s":4,"x":258.04,"z":-0.17},{"p":36,"s":4,"x":255.81,"z":-0.17},{"p":36,"s":4,"x":255.5,"z":0.89},{"p":36,"s":4,"x":255.33,"z":1.69},{"p":36,"s":4,"x":255.15,"z":1.99},{"p":36,"s":4,"x":254.75,"z":2.14},{"p":36,"s":4,"x":254.36,"z":1.94},{"p":36,"s":4,"x":254.05,"z":1.6},{"p":36,"s":4,"x":253.88,"z":1.18},{"p":36,"s":4,"x":253.75,"z":-0.17},{"p":36,"s":4,"x":252.52,"z":-0.17},{"p":36,"s":4,"x":252.43,"z":0.62},{"p":36,"s":4,"x":252.12,"z":1.35},{"p":36,"s":4,"x":251.68,"z":2.02},{"p":36,"s":4,"x":251.42,"z":2.24},{"p":36,"s":4,"x":250.68,"z":2.65},{"p":36,"s":4,"x":249.8,"z":3.04},{"p":36,"s":4,"x":248.61,"z":3.54},
{"p":37,"s":4,"x":259.84,"z":-0.17},{"p":37,"s":4,"x":259.97,"z":0.67},{"p":37,"s":4,"x":260.19,"z":1.18},{"p":37,"s":4,"x":260.41,"z":1.43},{"p":37,"s":4,"x":260.85,"z":1.55},{"p":37,"s":4,"x":261.29,"z":1.52},{"p":37,"s":4,"x":261.64,"z":1.35},{"p":37,"s":4,"x":261.95,"z":0.93},{"p":37,"s":4,"x":262.08,"z":-0.17},
{"p":38,"s":5,"x":246.82,"z":-0.17},{"p":38,"s":5,"x":246.86,"z":0.67},{"p":38,"s":5,"x":246.99,"z":0.93},{"p":38,"s":5,"x":247.25,"z":1.03},{"p":38,"s":5,"x":247.61,"z":0.89},{"p":38,"s":5,"x":247.91,"z":0.46},{"p":38,"s":5,"x":248.13,"z":-0.17},
{"p":39,"s":5,"x":250.02,"z":-0.17},{"p":39,"s":5,"x":249.71,"z":0.62},{"p":39,"s":5,"x":249.67,"z":1.18},{"p":39,"s":5,"x":249.93,"z":1.57},{"p":39,"s":5,"x":250.54,"z":1.75},{"p":39,"s":5,"x":251.11,"z":1.64},{"p":39,"s":5,"x":251.68,"z":1.18},{"p":39,"s":5,"x":252.08,"z":0.46},{"p":39,"s":5,"x":252.21,"z":-0.17}
],
"vticks":[
{"x":244,"z":0,"z2":0.19,"m":0},{"x":245,"z":0,"z2":0.37,"m":1},{"x":246,"z":0,"z2":0.19,"m":0},{"x":247,"z":0,"z2":0.19,"m":0},{"x":248,"z":0,"z2":0.19,"m":0},{"x":249,"z":0,"z2":0.19,"m":0},{"x":250,"z":0,"z2":0.37,"m":1},{"x":251,"z":0,"z2":0.19,"m":0},{"x":252,"z":0,"z2":0.19,"m":0},{"x":253,"z":0,"z2":0.19,"m":0},{"x":254,"z":0,"z2":0.19,"m":0},{"x":255,"z":0,"z2":0.37,"m":1},{"x":256,"z":0,"z2":0.19,"m":0},{"x":257,"z":0,"z2":0.19,"m":0},{"x":258,"z":0,"z2":0.19,"m":0},{"x":259,"z":0,"z2":0.19,"m":0},{"x":260,"z":0,"z2":0.37,"m":1},{"x":261,"z":0,"z2":0.19,"m":0},{"x":262,"z":0,"z2":0.19,"m":0},{"x":263,"z":0,"z2":0.19,"m":0},{"x":264,"z":0,"z2":0.19,"m":0},{"x":265,"z":0,"z2":0.37,"m":1},{"x":266,"z":0,"z2":0.19,"m":0},{"x":267,"z":0,"z2":0.19,"m":0},{"x":268,"z":0,"z2":0.19,"m":0},{"x":269,"z":0,"z2":0.19,"m":0},{"x":270,"z":0,"z2":0.37,"m":1},{"x":271,"z":0,"z2":0.19,"m":0},{"x":272,"z":0,"z2":0.19,"m":0},
{"x":244,"z":11.5,"z2":11.31,"m":0},{"x":245,"z":11.5,"z2":11.13,"m":1},{"x":246,"z":11.5,"z2":11.31,"m":0},{"x":247,"z":11.5,"z2":11.31,"m":0},{"x":248,"z":11.5,"z2":11.31,"m":0},{"x":249,"z":11.5,"z2":11.31,"m":0},{"x":250,"z":11.5,"z2":11.13,"m":1},{"x":251,"z":11.5,"z2":11.31,"m":0},{"x":252,"z":11.5,"z2":11.31,"m":0},{"x":253,"z":11.5,"z2":11.31,"m":0},{"x":254,"z":11.5,"z2":11.31,"m":0},{"x":255,"z":11.5,"z2":11.13,"m":1},{"x":256,"z":11.5,"z2":11.31,"m":0},{"x":257,"z":11.5,"z2":11.31,"m":0},{"x":258,"z":11.5,"z2":11.31,"m":0},{"x":259,"z":11.5,"z2":11.31,"m":0},{"x":260,"z":11.5,"z2":11.13,"m":1},{"x":261,"z":11.5,"z2":11.31,"m":0},{"x":262,"z":11.5,"z2":11.31,"m":0},{"x":263,"z":11.5,"z2":11.31,"m":0},{"x":264,"z":11.5,"z2":11.31,"m":0},{"x":265,"z":11.5,"z2":11.13,"m":1},{"x":266,"z":11.5,"z2":11.31,"m":0},{"x":267,"z":11.5,"z2":11.31,"m":0},{"x":268,"z":11.5,"z2":11.31,"m":0},{"x":269,"z":11.5,"z2":11.31,"m":0},{"x":270,"z":11.5,"z2":11.13,"m":1},{"x":271,"z":11.5,"z2":11.31,"m":0},{"x":272,"z":11.5,"z2":11.31,"m":0}
],
"hticks":[
{"z":0.5,"x":243,"x2":243.48,"m":0},{"z":1,"x":243,"x2":243.48,"m":0},{"z":1.5,"x":243,"x2":243.48,"m":0},{"z":2,"x":243,"x2":243.96,"m":1},{"z":2.5,"x":243,"x2":243.48,"m":0},{"z":3,"x":243,"x2":243.48,"m":0},{"z":3.5,"x":243,"x2":243.48,"m":0},{"z":4,"x":243,"x2":243.96,"m":1},{"z":4.5,"x":243,"x2":243.48,"m":0},{"z":5,"x":243,"x2":243.48,"m":0},{"z":5.5,"x":243,"x2":243.48,"m":0},{"z":6,"x":243,"x2":243.96,"m":1},{"z":6.5,"x":243,"x2":243.48,"m":0},{"z":7,"x":243,"x2":243.48,"m":0},{"z":7.5,"x":243,"x2":243.48,"m":0},{"z":8,"x":243,"x2":243.96,"m":1},{"z":8.5,"x":243,"x2":243.48,"m":0},{"z":9,"x":243,"x2":243.48,"m":0},{"z":9.5,"x":243,"x2":243.48,"m":0},{"z":10,"x":243,"x2":243.96,"m":1},{"z":10.5,"x":243,"x2":243.48,"m":0},{"z":11,"x":243,"x2":243.48,"m":0},
{"z":0.5,"x":273,"x2":272.52,"m":0},{"z":1,"x":273,"x2":272.52,"m":0},{"z":1.5,"x":273,"x2":272.52,"m":0},{"z":2,"x":273,"x2":272.04,"m":1},{"z":2.5,"x":273,"x2":272.52,"m":0},{"z":3,"x":273,"x2":272.52,"m":0},{"z":3.5,"x":273,"x2":272.52,"m":0},{"z":4,"x":273,"x2":272.04,"m":1},{"z":4.5,"x":273,"x2":272.52,"m":0},{"z":5,"x":273,"x2":272.52,"m":0},{"z":5.5,"x":273,"x2":272.52,"m":0},{"z":6,"x":273,"x2":272.04,"m":1},{"z":6.5,"x":273,"x2":272.52,"m":0},{"z":7,"x":273,"x2":272.52,"m":0},{"z":7.5,"x":273,"x2":272.52,"m":0},{"z":8,"x":273,"x2":272.04,"m":1},{"z":8.5,"x":273,"x2":272.52,"m":0},{"z":9,"x":273,"x2":272.52,"m":0},{"z":9.5,"x":273,"x2":272.52,"m":0},{"z":10,"x":273,"x2":272.04,"m":1},{"z":10.5,"x":273,"x2":272.52,"m":0},{"z":11,"x":273,"x2":272.52,"m":0},
{"z":11.5,"x":243,"x2":273,"m":2},{"z":0,"x":243,"x2":273,"m":3}
],
"sides":[{"x":243,"z":0,"z2":11.5},{"x":273,"z":0,"z2":11.5}],
"labA":[{"t":".04","x":257.43,"z":10.93},{"t":".04","x":259.75,"z":10.02},{"t":".02","x":261.95,"z":10.94},{"t":".02","x":262.43,"z":8.4},{"t":".01","x":266.33,"z":10.07},{"t":".01","x":258.44,"z":9.02},{"t":".01","x":257.78,"z":6.44},{"t":".02","x":256.6,"z":4.08},{"t":".01","x":253.09,"z":3.96},{"t":".01","x":250.68,"z":2.65}],
"labB":[{"t":".04","x":262.21,"z":10.03},{"t":".02","x":265.5,"z":9.16},{"t":".02","x":261.2,"z":3.93}],
"labC":[{"t":".02","x":266.25,"z":8.15},{"t":".01","x":269.18,"z":10.54},{"t":".03","x":254.49,"z":8.72}],
"labD":[{"t":".03","x":266.11,"z":11.0}],
"labE":[{"t":".01","x":268.75,"z":9.7},{"t":".03","x":263.09,"z":5.85},{"t":".01","x":265.24,"z":4.64}],
"key":[{"i":0,"i2":1,"l":-6},{"i":1,"i2":2,"l":-5},{"i":2,"i2":3,"l":-4},{"i":3,"i2":4,"l":-3},{"i":4,"i2":5,"l":-2},{"i":5,"i2":6,"l":-1},{"i":6,"i2":7,"l":0},{"i":7,"i2":8,"l":1},{"i":8,"i2":9,"l":2},{"i":9,"i2":10,"l":3},{"i":10,"i2":11,"l":4},{"i":11,"i2":12,"l":5},{"i":12,"i2":13,"l":6}],
"keyLab":[{"b":1,"t":"-.07"},{"b":2,"t":"-.05"},{"b":3,"t":"-.04"},{"b":4,"t":"-.03"},{"b":5,"t":"-.02"},{"b":6,"t":"-.01"},{"b":7,"t":".01"},{"b":8,"t":".02"},{"b":9,"t":".03"},{"b":10,"t":".04"},{"b":11,"t":".05"},{"b":12,"t":".07"}]
},
"config":{"view":{"stroke":null},"font":"Liberation Sans"},
"spacing":51,
"hconcat":[
{"width":683,"height":682,
"title":{"text":"t=24h, dx=500m, RK","fontSize":31,"font":"Liberation Sans","fontWeight":"normal","color":"#222","anchor":"middle","offset":17},
"encoding":{
"x":{"field":"x","type":"quantitative","scale":{"domain":[243,273],"nice":false,"zero":false},"axis":{"values":[245,250,255,260,265,270],"ticks":false,"domain":false,"grid":false,"labelFontSize":30,"labelColor":"#222","labelPadding":21,"format":"d","title":"x [km]","titleFontSize":18,"titleFontWeight":"normal","titleColor":"#222","titlePadding":10}},
"y":{"field":"z","type":"quantitative","scale":{"domain":[0,11.5],"nice":false,"zero":false},"axis":{"values":[0,2,4,6,8,10],"ticks":false,"domain":false,"grid":false,"labelFontSize":30,"labelColor":"#222","labelPadding":26,"format":"d","title":"z [km]","titleFontSize":18,"titleFontWeight":"normal","titleColor":"#222","titlePadding":11}}
},
"layer":[
{"data":{"name":"fills"},"mark":{"type":"line","interpolate":"cardinal-closed","clip":true,"stroke":"transparent","strokeWidth":0},
"encoding":{"fill":{"field":"l","type":"nominal","legend":null,"scale":{"domain":[-6,-5,-4,-3,-2,-1,0,1,2,3,4,5,6],"range":["#0000CC","#2A2AFF","#5564FF","#7896DC","#78E6C8","#B4FFB4","#FFFFFF","#FFFF60","#FFDB66","#FFAD60","#FF7050","#F53B30","#C80000"]}},"detail":{"field":"p"},"order":{"value":null}}},
{"data":{"name":"fills"},"transform":[{"filter":"datum.p>=100 && datum.p<200"}],"mark":{"type":"line","interpolate":"cardinal-closed","clip":true,"stroke":"#444","strokeWidth":1.1},"encoding":{"detail":{"field":"p"},"order":{"value":null}}},
{"data":{"name":"fills"},"transform":[{"filter":"datum.p>=200"}],"mark":{"type":"line","interpolate":"cardinal-closed","clip":true,"stroke":"#555","strokeWidth":1.1,"strokeDash":[9,5]},"encoding":{"detail":{"field":"p"},"order":{"value":null}}},
{"data":{"name":"lines"},"transform":[{"filter":"datum.s==1"}],"mark":{"type":"line","interpolate":"cardinal","clip":true,"stroke":"#777","strokeWidth":1.2},"encoding":{"detail":{"field":"p"},"order":{"value":null}}},
{"data":{"name":"lines"},"transform":[{"filter":"datum.s==2"}],"mark":{"type":"line","interpolate":"cardinal","clip":true,"stroke":"#444","strokeWidth":1.1},"encoding":{"detail":{"field":"p"},"order":{"value":null}}},
{"data":{"name":"lines"},"transform":[{"filter":"datum.s==3"}],"mark":{"type":"line","interpolate":"cardinal","clip":true,"stroke":"#555","strokeWidth":1.1,"strokeDash":[13,7]},"encoding":{"detail":{"field":"p"},"order":{"value":null}}},
{"data":{"name":"lines"},"transform":[{"filter":"datum.s==4"}],"mark":{"type":"line","interpolate":"cardinal-closed","clip":true,"stroke":"#555","strokeWidth":1.1,"strokeDash":[13,7]},"encoding":{"detail":{"field":"p"},"order":{"value":null}}},
{"data":{"name":"lines"},"transform":[{"filter":"datum.s==5"}],"mark":{"type":"line","interpolate":"cardinal-closed","clip":true,"stroke":"#777","strokeWidth":1.2},"encoding":{"detail":{"field":"p"},"order":{"value":null}}},
{"data":{"name":"lines"},"transform":[{"filter":"datum.s==6"}],"mark":{"type":"line","interpolate":"cardinal-closed","clip":true,"stroke":"#444","strokeWidth":1.1},"encoding":{"detail":{"field":"p"},"order":{"value":null}}},
{"data":{"name":"labA"},"mark":{"type":"text","angle":40,"fontSize":18,"color":"#111"},"encoding":{"text":{"field":"t"}}},
{"data":{"name":"labB"},"mark":{"type":"text","angle":62,"fontSize":18,"color":"#111"},"encoding":{"text":{"field":"t"}}},
{"data":{"name":"labC"},"mark":{"type":"text","angle":78,"fontSize":18,"color":"#111"},"encoding":{"text":{"field":"t"}}},
{"data":{"name":"labD"},"mark":{"type":"text","angle":15,"fontSize":18,"color":"#111"},"encoding":{"text":{"field":"t"}}},
{"data":{"name":"labE"},"mark":{"type":"text","angle":298,"fontSize":18,"color":"#111"},"encoding":{"text":{"field":"t"}}},
{"data":{"name":"vticks"},"mark":{"type":"rule"},"encoding":{"y2":{"field":"z2"},"strokeWidth":{"field":"m","type":"nominal","legend":null,"scale":{"domain":[0,1],"range":[1.5,2.2]}},"color":{"field":"m","type":"nominal","legend":null,"scale":{"domain":[0,1],"range":["#aaaaaa","#555555"]}}}},
{"data":{"name":"hticks"},"mark":{"type":"rule"},"encoding":{"x2":{"field":"x2"},"strokeWidth":{"field":"m","type":"nominal","legend":null,"scale":{"domain":[0,1,2,3],"range":[1.5,2.2,2.2,3]}},"color":{"field":"m","type":"nominal","legend":null,"scale":{"domain":[0,1,2,3],"range":["#aaaaaa","#555555","#777777","#000000"]}}}},
{"data":{"name":"sides"},"mark":{"type":"rule","stroke":"#777777","strokeWidth":2.2},"encoding":{"y2":{"field":"z2"}}}
]},
{"width":132,"height":682,
"encoding":{
"x":{"type":"quantitative","scale":{"domain":[0,2.2],"nice":false,"zero":false},"axis":null},
"y":{"type":"quantitative","scale":{"domain":[-4.49,20.41],"nice":false,"zero":false},"axis":null}
},
"layer":[
{"data":{"name":"key"},"mark":{"type":"rect","stroke":"#333","strokeWidth":1},"encoding":{"x":{"datum":0,"type":"quantitative","scale":{"domain":[0,2.2],"nice":false,"zero":false},"axis":null},"x2":{"datum":1},"y":{"field":"i","type":"quantitative","scale":{"domain":[-4.49,20.41],"nice":false,"zero":false},"axis":null},"y2":{"field":"i2"},"fill":{"field":"l","type":"nominal","legend":null,"scale":{"domain":[-6,-5,-4,-3,-2,-1,0,1,2,3,4,5,6],"range":["#0000CC","#2A2AFF","#5564FF","#7896DC","#78E6C8","#B4FFB4","#FFFFFF","#FFFF60","#FFDB66","#FFAD60","#FF7050","#F53B30","#C80000"]}}}},
{"data":{"name":"keyLab"},"mark":{"type":"text","align":"left","baseline":"middle","fontSize":25,"color":"#222"},"encoding":{"x":{"datum":1.3,"type":"quantitative"},"y":{"field":"b","type":"quantitative"},"text":{"field":"t"}}},
{"data":{"values":[{"t":"w in m/s"}]},"mark":{"type":"text","align":"left","baseline":"middle","fontSize":32,"color":"#222"},"encoding":{"x":{"datum":0.04,"type":"quantitative"},"y":{"datum":14.6,"type":"quantitative"},"text":{"field":"t"}}}
]}
]}
